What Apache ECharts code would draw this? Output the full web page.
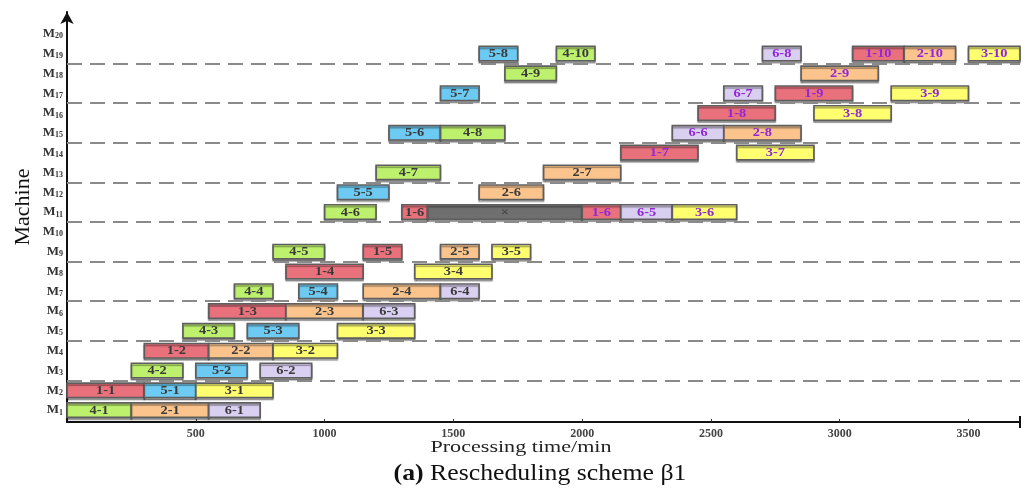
<!DOCTYPE html>
<html><head><meta charset="utf-8">
<script src="https://cdn.jsdelivr.net/npm/echarts@6/dist/echarts.min.js"></script>
<style>html,body{margin:0;padding:0;background:#fff}#c{width:1025px;height:488px}</style>
</head><body><div id="c"></div>
<script>
// ---- data ----
const machineNumbers = [1,2,3,4,5,6,7,8,9,10,11,12,13,14,15,16,17,18,19,20];
const xTickValues = [500,1000,1500,2000,2500,3000,3500];
const dividerLevels = [2.5,4.5,6.5,8.5,10.5,12.5,14.5,16.5,18.5];

const taskNames = [
  '4-1','2-1','6-1',
  '1-1','5-1','3-1',
  '4-2','5-2','6-2',
  '1-2','2-2','3-2',
  '4-3','5-3','3-3',
  '1-3','2-3','6-3',
  '4-4','5-4','2-4','6-4',
  '1-4','3-4',
  '4-5','1-5','2-5','3-5',
  '4-6','1-6','×','1-6','6-5','3-6',
  '5-5','2-6',
  '4-7','2-7',
  '1-7','3-7',
  '5-6','4-8','6-6','2-8',
  '1-8','3-8',
  '5-7','6-7','1-9','3-9',
  '4-9','2-9',
  '5-8','4-10','6-8','1-10','2-10','3-10'
];
const taskMachines = [
  1,1,1,
  2,2,2,
  3,3,3,
  4,4,4,
  5,5,5,
  6,6,6,
  7,7,7,7,
  8,8,
  9,9,9,9,
  11,11,11,11,11,11,
  12,12,
  13,13,
  14,14,
  15,15,15,15,
  16,16,
  17,17,17,17,
  18,18,
  19,19,19,19,19,19
];
const taskStarts = [
  0,250,550,
  0,300,500,
  250,500,750,
  300,550,800,
  450,700,1050,
  550,850,1150,
  650,900,1150,1450,
  850,1350,
  800,1150,1450,1650,
  1000,1300,1400,2000,2150,2350,
  1050,1600,
  1200,1850,
  2150,2600,
  1250,1450,2350,2550,
  2450,2900,
  1450,2550,2750,3200,
  1700,2850,
  1600,1900,2700,3050,3250,3500
];
const taskEnds = [
  250,550,750,
  300,500,800,
  450,700,950,
  550,800,1050,
  650,900,1350,
  850,1150,1350,
  800,1050,1450,1600,
  1150,1650,
  1000,1300,1600,1800,
  1200,1400,2000,2150,2350,2600,
  1250,1850,
  1450,2150,
  2450,2900,
  1450,1700,2550,2850,
  2750,3200,
  1600,2700,3050,3500,
  1900,3150,
  1750,2050,2850,3250,3450,3700
];
const rescheduleStart = 2000; // operations starting from the repair end are rescheduled

// ---- styles ----
const jobColors = {'1':'#e8717c','2':'#fac48c','3':'#ffff70','4':'#bdf06c','5':'#6dcaf2','6':'#d9cff0','×':'#6f6f6f'};
const serif = '"Liberation Serif","DejaVu Serif",serif';

const chart = echarts.init(document.getElementById('c'), null, {renderer:'canvas'});

function renderItem(params, api){
  const i = params.dataIndex;
  const m = api.value(0), s = api.value(1), e = api.value(2);
  const p0 = api.coord([s, m]);
  const p1 = api.coord([e, m]);
  const h = api.size([0, 0.73])[1];
  const name = taskNames[i];
  const key = name === '×' ? '×' : name.split('-')[0];
  const fill = jobColors[key];
  let textColor = '#3a3a3a';
  if (name === '×') textColor = '#444';
  else if (s >= rescheduleStart) textColor = '#9327d6';
  const cx = (p0[0]+p1[0])/2, cy = p0[1]+0.5;
  return {
    type:'group',
    children:[
      {type:'rect', shape:{x:p0[0], y:p0[1]-h/2, width:p1[0]-p0[0], height:h},
       style:{fill:fill, stroke:'#5e5e5e', lineWidth:1.6, shadowColor:'rgba(0,0,0,0.35)', shadowOffsetY:2, shadowBlur:1}},
      {type:'text', x:cx, y:cy, scaleX:1.2,
       style:{text:name, x:0, y:0, align:'center', verticalAlign:'middle',
        font:'bold 12px ' + serif, fill:textColor}}
    ]
  };
}

const option = {
  backgroundColor:'#fff',
  animation:false,
  grid:{left:67, right:5, top:12, bottom:66, containLabel:false},
  graphic:[
    {type:'text', x:521, y:448, scaleX:1.3, silent:true,
     style:{text:'Processing time/min', font:'17px ' + serif, fill:'#222', align:'center', verticalAlign:'middle'}},
    {type:'text', x:540, y:474, scaleX:1.12, silent:true,
     style:{text:'{b|(a)} Rescheduling scheme β1', font:'23px ' + serif, fill:'#111', align:'center', verticalAlign:'middle',
       rich:{b:{font:'bold 23px ' + serif, fill:'#111'}}}},
    {type:'text', x:23, y:207, rotation:Math.PI/2, silent:true,
     style:{text:'Machine', font:'22px ' + serif, fill:'#111', align:'center', verticalAlign:'middle'}}
  ],
  xAxis:{
    type:'value', min:0, max:3700,
    axisLine:{show:true, lineStyle:{color:'#111', width:2}, symbol:['none','rect'], symbolSize:[12,2]},
    axisTick:{show:true, inside:true, length:3, customValues:xTickValues, lineStyle:{color:'#333'}},
    axisLabel:{customValues:xTickValues, margin:6, fontFamily:serif, fontWeight:'bold', fontSize:12, color:'#444',
      formatter:v => String(v)},
    splitLine:{show:false}
  },
  yAxis:{
    type:'value', min:0.4, max:21.1,
    axisLine:{show:true, lineStyle:{color:'#111', width:2}, symbol:['none','arrow'], symbolSize:[10,12]},
    axisTick:{show:false},
    axisLabel:{
      customValues:machineNumbers, margin:4,
      formatter:v => '{m|M}{s|' + v + '}',
      rich:{
        m:{fontFamily:serif, fontWeight:'bold', fontSize:13, color:'#333'},
        s:{fontFamily:serif, fontWeight:'bold', fontSize:8, color:'#333', padding:[5,0,0,0]}
      }
    },
    splitLine:{show:false}
  },
  series:[
    {
      type:'line', data:[], silent:true,
      markLine:{
        silent:true, symbol:['none','none'], label:{show:false},
        lineStyle:{type:[15,8], color:'#8a8a8a', width:2},
        data:dividerLevels.map(v => ({yAxis:v}))
      }
    },
    {
      type:'custom', renderItem:renderItem,
      encode:{x:[1,2], y:0},
      data:taskNames.map((n,i) => [taskMachines[i], taskStarts[i], taskEnds[i]])
    }
  ]
};
chart.setOption(option);
</script>
</body></html>
